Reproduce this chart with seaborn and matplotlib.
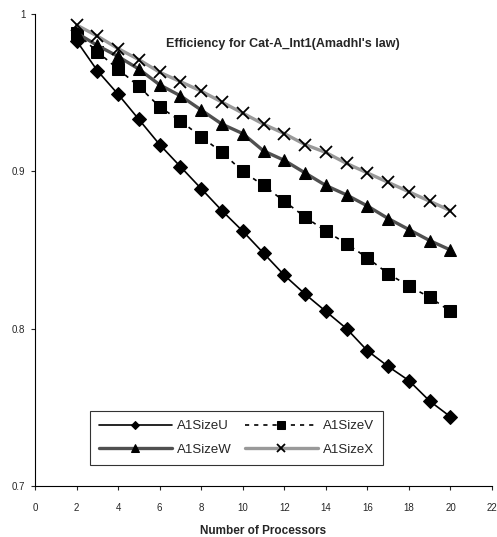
import matplotlib
matplotlib.use("Agg")
import matplotlib.pyplot as plt
import seaborn as sns
from matplotlib.ticker import FuncFormatter, MultipleLocator

processors = list(range(2, 21))
size_u = [0.983, 0.964, 0.949, 0.933, 0.917, 0.903, 0.889, 0.875, 0.862, 0.848,
          0.834, 0.822, 0.811, 0.800, 0.786, 0.776, 0.767, 0.754, 0.744]
size_v = [0.988, 0.976, 0.965, 0.954, 0.941, 0.932, 0.922, 0.912, 0.900, 0.891,
          0.881, 0.871, 0.862, 0.854, 0.845, 0.835, 0.827, 0.820, 0.811]
size_w = [0.988, 0.980, 0.973, 0.965, 0.955, 0.948, 0.939, 0.930, 0.924, 0.913,
          0.907, 0.899, 0.891, 0.885, 0.878, 0.870, 0.863, 0.856, 0.850]
size_x = [0.993, 0.986, 0.978, 0.971, 0.963, 0.957, 0.951, 0.944, 0.937, 0.930,
          0.924, 0.917, 0.912, 0.905, 0.899, 0.893, 0.887, 0.881, 0.875]

sns.set_style("white")
plt.rcParams["font.family"] = ["Liberation Sans", "DejaVu Sans"]

fig = plt.figure(figsize=(4.97, 5.37), dpi=100)
ax = fig.add_axes([35 / 497, 1 - 486 / 537, 457 / 497, 472 / 537])

sns.lineplot(x=processors, y=size_u, ax=ax, color="black", linewidth=1.2,
             marker="D", markersize=7, markeredgecolor="black", label="A1SizeU")
sns.lineplot(x=processors, y=size_v, ax=ax, color="black", linewidth=1.2,
             linestyle=(0, (2.5, 3)), marker="s", markersize=8.5,
             markeredgecolor="black", label="A1SizeV")
sns.lineplot(x=processors, y=size_w, ax=ax, color="#505050", linewidth=2.4,
             marker="^", markersize=9, markerfacecolor="black",
             markeredgecolor="black", label="A1SizeW")
sns.lineplot(x=processors, y=size_x, ax=ax, color="#999999", linewidth=2.4,
             marker="x", markersize=8.5, markeredgewidth=1.3,
             markeredgecolor="black", label="A1SizeX")

ax.set_xlim(0, 22)
ax.set_ylim(0.7, 1.0)
ax.xaxis.set_major_locator(MultipleLocator(2))
ax.yaxis.set_major_locator(MultipleLocator(0.1))
ax.yaxis.set_major_formatter(FuncFormatter(lambda v, _: f"{v:g}"))
ax.tick_params(axis="both", labelsize=7, length=3, width=0.8, direction="out",
               left=True, bottom=True, pad=4)
ax.tick_params(axis="x", pad=9)

for side in ["top", "right"]:
    ax.spines[side].set_visible(False)
for side in ["left", "bottom"]:
    ax.spines[side].set_color("black")
    ax.spines[side].set_linewidth(0.8)

ax.text(0.543, 0.937, "Efficiency for Cat-A_Int1(Amadhl's law)",
        transform=ax.transAxes, ha="center", va="center",
        fontsize=9, fontweight="bold")
ax.set_xlabel("Number of Processors", fontsize=8.5, fontweight="bold", labelpad=9)
ax.set_ylabel("")

# row-wise order like the original: U, V / W, X
handles, labels = ax.get_legend_handles_labels()
order = [0, 2, 1, 3]
leg = ax.legend([handles[i] for i in order], [labels[i] for i in order],
                loc="lower left", bbox_to_anchor=(0.12, 0.0445, 0.642, 0.119),
                mode="expand", ncol=2, fontsize=9.5, handlelength=5.5,
                markerscale=0.6, frameon=True, fancybox=False, borderpad=0.7,
                borderaxespad=0, columnspacing=0.8, handletextpad=0.4,
                labelspacing=0.85)
leg.get_frame().set_edgecolor("black")
leg.get_frame().set_linewidth(0.8)

fig.savefig("out.png", dpi=100)
